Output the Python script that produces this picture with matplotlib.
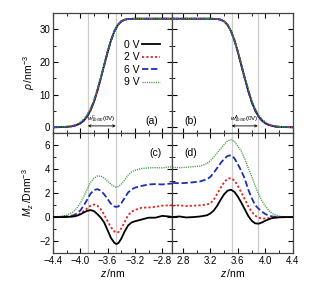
import matplotlib.pyplot as plt
from matplotlib.ticker import MultipleLocator

plt.rcParams['font.family'] = ['Liberation Sans', 'DejaVu Sans']
plt.rcParams['mathtext.fontset'] = 'custom'
plt.rcParams['mathtext.rm'] = 'Liberation Sans'
plt.rcParams['mathtext.it'] = 'Liberation Sans:italic'

voltages = ["0 V", "2 V", "6 V", "9 V"]

# density profiles (top panels)
rho_z_left = [-4.40, -4.25, -4.15, -4.10, -4.05, -4.00, -3.95, -3.90, -3.85, -3.80, -3.75,
              -3.70, -3.65, -3.60, -3.55, -3.50, -3.45, -3.40, -3.35, -3.30, -3.20, -2.65]
rho_left = [0, 0.05, 0.2, 0.4, 0.7, 1.2, 2.0, 3.3, 5.2, 7.8, 11.2,
            15.0, 19.0, 23.0, 26.6, 29.4, 31.3, 32.4, 32.9, 33.1, 33.2, 33.2]
rho_left_9v = [0, 0.1, 0.35, 0.6, 1.0, 1.6, 2.5, 3.9, 5.8, 8.4, 11.7,
               15.4, 19.3, 23.2, 26.7, 29.4, 31.3, 32.4, 32.9, 33.1, 33.2, 33.2]
rho_z_right = [2.65, 3.20, 3.30, 3.35, 3.40, 3.45, 3.50, 3.55, 3.60, 3.65, 3.70,
               3.75, 3.80, 3.85, 3.90, 3.95, 4.00, 4.05, 4.10, 4.15, 4.25, 4.40]
rho_right = [33.2, 33.2, 33.1, 32.9, 32.4, 31.3, 29.4, 26.6, 23.0, 19.0, 15.0,
             11.2, 7.8, 5.2, 3.3, 2.0, 1.2, 0.7, 0.4, 0.2, 0.05, 0]
rho_right_9v = [33.2, 33.2, 33.1, 32.9, 32.4, 31.3, 29.4, 26.7, 23.2, 19.3, 15.4,
                11.7, 8.4, 5.8, 3.9, 2.5, 1.6, 1.0, 0.6, 0.35, 0.1, 0]

# dipole density (bottom panels)
mz_z_left = [-4.40, -4.30, -4.20, -4.10, -4.05, -4.00, -3.95, -3.90, -3.85, -3.80, -3.75,
             -3.70, -3.65, -3.60, -3.55, -3.50, -3.47, -3.44, -3.40, -3.35, -3.30, -3.25,
             -3.20, -3.10, -3.00, -2.90, -2.80, -2.70, -2.65]
mz_left_0v = [0, 0, 0.01, 0.05, 0.12, 0.22, 0.38, 0.52, 0.58, 0.5, 0.25,
              -0.05, -0.45, -1.1, -1.75, -2.15, -2.25, -2.15, -1.8, -1.2, -0.7, -0.45,
              -0.35, -0.2, -0.05, -0.05, 0.1, 0.05, 0.0]
mz_left_2v = [0, 0, 0.02, 0.08, 0.15, 0.3, 0.5, 0.72, 0.95, 1.05, 0.95,
              0.65, 0.2, -0.35, -0.85, -1.2, -1.3, -1.25, -0.95, -0.4, 0.15, 0.45,
              0.6, 0.78, 0.8, 0.85, 0.95, 0.98, 0.98]
mz_left_6v = [0, 0.02, 0.05, 0.15, 0.3, 0.55, 0.95, 1.45, 1.95, 2.25, 2.33,
              2.2, 1.9, 1.5, 1.1, 0.88, 0.85, 0.9, 1.15, 1.6, 2.05, 2.3,
              2.45, 2.6, 2.72, 2.75, 2.72, 2.78, 2.8]
mz_left_9v = [0.02, 0.05, 0.15, 0.45, 0.75, 1.15, 1.7, 2.3, 2.9, 3.25, 3.42,
              3.42, 3.25, 3.0, 2.72, 2.55, 2.5, 2.55, 2.75, 3.1, 3.5, 3.75,
              3.9, 4.05, 4.1, 4.12, 4.1, 4.18, 4.2]

mz_z_right = [2.65, 2.75, 2.85, 2.95, 3.05, 3.15, 3.20, 3.25, 3.30, 3.35, 3.40, 3.45, 3.50, 3.55,
              3.60, 3.65, 3.70, 3.75, 3.80, 3.85, 3.90, 3.95, 4.00, 4.05, 4.10, 4.20, 4.30, 4.40]
mz_right_0v = [0.0, 0.05, -0.03, 0.0, 0.05, 0.15, 0.3, 0.55, 0.95, 1.45, 1.9, 2.2, 2.28, 2.1,
               1.7, 1.2, 0.65, 0.1, -0.3, -0.52, -0.55, -0.45, -0.3, -0.18, -0.08, -0.02, 0, 0]
mz_right_2v = [0.95, 0.98, 0.92, 0.95, 0.98, 1.05, 1.15, 1.45, 1.95, 2.45, 2.9, 3.2, 3.25, 3.05,
               2.6, 2.05, 1.5, 0.9, 0.45, 0.12, -0.05, -0.12, -0.12, -0.08, -0.03, 0, 0, 0]
mz_right_6v = [2.85, 2.82, 2.85, 2.9, 2.97, 3.15, 3.35, 3.7, 4.1, 4.5, 4.85, 5.1, 5.15, 4.9,
               4.4, 3.85, 3.2, 2.3, 1.6, 1.0, 0.7, 0.45, 0.25, 0.12, 0.05, 0, 0, 0]
mz_right_9v = [4.15, 4.12, 4.15, 4.2, 4.25, 4.45, 4.7, 5.0, 5.35, 5.7, 6.05, 6.35, 6.45, 6.3,
               5.9, 5.5, 4.85, 4.1, 3.4, 2.6, 1.95, 1.35, 0.9, 0.55, 0.3, 0.08, 0, 0]

# 10/90 interface widths (0 V)
w_left = [-3.89, -3.48]
w_right = [3.51, 3.89]

colors = ["black", "#e3241e", "#1f2fb0", "#3f9a3a"]
styles = ["-", (0, (1.2, 1.2)), (0, (3.5, 1.5)), (0, (0.8, 0.8))]
widths = [1.3, 1.3, 1.3, 1.0]

fig = plt.figure(figsize=(3.23, 2.85), dpi=100)
x0, xm, x1 = 0.164, 0.534, 0.907
y0, ym, y1 = 0.112, 0.533, 0.955
ax_a = fig.add_axes([x0, ym, xm - x0, y1 - ym])
ax_b = fig.add_axes([xm, ym, x1 - xm, y1 - ym])
ax_c = fig.add_axes([x0, y0, xm - x0, ym - y0])
ax_d = fig.add_axes([xm, y0, x1 - xm, ym - y0])

rho_l = [rho_left, rho_left, rho_left, rho_left_9v]
rho_r = [rho_right, rho_right, rho_right, rho_right_9v]
mz_l = [mz_left_0v, mz_left_2v, mz_left_6v, mz_left_9v]
mz_r = [mz_right_0v, mz_right_2v, mz_right_6v, mz_right_9v]

for i in range(4):
    kw = dict(color=colors[i], ls=styles[i], lw=widths[i], label=voltages[i])
    ax_a.plot(rho_z_left, rho_l[i], zorder=2 + i, **kw)
    ax_b.plot(rho_z_right, rho_r[i], zorder=2 + i, **kw)
    ax_c.plot(mz_z_left, mz_l[i], zorder=5 - i, **kw)
    ax_d.plot(mz_z_right, mz_r[i], zorder=5 - i, **kw)

for ax, w in [(ax_a, w_left), (ax_c, w_left), (ax_b, w_right), (ax_d, w_right)]:
    for z in w:
        ax.axvline(z, color="#cccccc", lw=0.9, zorder=0)

for ax in (ax_a, ax_c):
    ax.set_xlim(-4.4, -2.65)
for ax in (ax_b, ax_d):
    ax.set_xlim(2.65, 4.4)
for ax in (ax_a, ax_b):
    ax.set_ylim(-1.8, 35)
    ax.yaxis.set_major_locator(MultipleLocator(10))
    ax.yaxis.set_minor_locator(MultipleLocator(5))
    ax.tick_params(labelbottom=False)
for ax in (ax_c, ax_d):
    ax.set_ylim(-3, 7)
    ax.yaxis.set_major_locator(MultipleLocator(2))
    ax.yaxis.set_minor_locator(MultipleLocator(1))
    ax.set_xlabel("$z\\,$/nm", fontsize=7.5, labelpad=1)

for ax in (ax_a, ax_b, ax_c, ax_d):
    ax.xaxis.set_major_locator(MultipleLocator(0.4))
    ax.xaxis.set_minor_locator(MultipleLocator(0.2))
    ax.tick_params(which="both", direction="in", top=True, right=True, labelsize=7, pad=2)
    ax.tick_params(which="major", length=3.5, width=0.8)
    ax.tick_params(which="minor", length=2, width=0.6)
    for s in ax.spines.values():
        s.set_linewidth(0.9)
        s.set_color("#444444")
for ax in (ax_b, ax_d):
    ax.tick_params(labelleft=False)

ax_a.set_ylabel("$\\rho\\,$/nm$^{-3}$", fontsize=7.5, labelpad=2)
ax_c.set_ylabel("$M_z\\,$/Dnm$^{-3}$", fontsize=7.5, labelpad=2)

ax_a.legend(loc="upper right", bbox_to_anchor=(0.94, 0.82), frameon=False, markerfirst=False,
            fontsize=7.5, handlelength=1.7, handletextpad=0.3, labelspacing=0.25, borderpad=0)

ax_a.text(0.83, 0.1, "(a)", transform=ax_a.transAxes, fontsize=7.5, ha="center", va="center")
ax_b.text(0.15, 0.1, "(b)", transform=ax_b.transAxes, fontsize=7.5, ha="center", va="center")
ax_c.text(0.86, 0.83, "(c)", transform=ax_c.transAxes, fontsize=7.5, ha="center", va="center")
ax_d.text(0.15, 0.83, "(d)", transform=ax_d.transAxes, fontsize=7.5, ha="center", va="center")

ax_a.annotate("", xy=(w_left[0], 0.4), xytext=(w_left[1], 0.4),
              arrowprops=dict(arrowstyle="<->", lw=0.6, color="black", shrinkA=0, shrinkB=0,
                              mutation_scale=4))
ax_a.text(sum(w_left) / 2, 2.2, "$w^{\\mathrm{C}}_{10/90}$(0V)", fontsize=4.5, ha="center")
ax_b.annotate("", xy=(w_right[0], 0.4), xytext=(w_right[1], 0.4),
              arrowprops=dict(arrowstyle="<->", lw=0.6, color="black", shrinkA=0, shrinkB=0,
                              mutation_scale=4))
ax_b.text(sum(w_right) / 2, 2.2, "$w^{\\mathrm{A}}_{10/90}$(0V)", fontsize=4.5, ha="center")

fig.savefig("out.png", dpi=100)
